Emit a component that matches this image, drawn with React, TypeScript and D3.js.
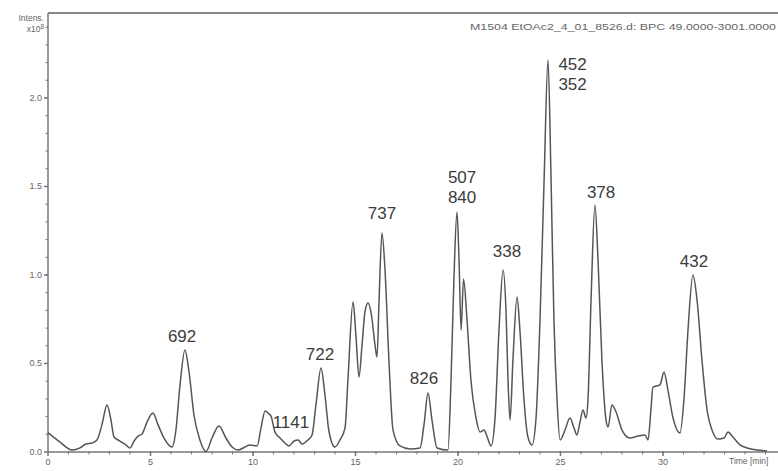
import React, { useEffect, useRef } from 'react';
import * as d3 from 'd3';

// BPC trace, time in minutes and intensity in units of 10^8
const traceTime = [
  0, 0.59, 1.17, 1.56, 1.85, 2.15, 2.39, 2.63, 2.88, 3.07, 3.22, 3.51, 3.8, 4.0, 4.2, 4.39, 4.59, 4.83, 5.12, 5.37,
  5.66, 6.05, 6.24, 6.44, 6.68, 6.88, 7.12, 7.41, 7.71, 8.0, 8.34, 8.68, 8.98, 9.27, 9.61, 9.85, 10.2, 10.39, 10.59,
  10.78, 10.88, 11.07, 11.32, 11.56, 11.76, 12.0, 12.2, 12.39, 12.68, 12.88, 13.07, 13.32, 13.51, 13.71, 14.0, 14.24,
  14.49, 14.63, 14.88, 15.02, 15.17, 15.32, 15.46, 15.61, 15.8, 15.95, 16.05, 16.15, 16.29, 16.44, 16.63, 16.83,
  17.17, 17.66, 18.15, 18.34, 18.54, 18.73, 18.98, 19.51, 19.66, 19.8, 19.95, 20.05, 20.15, 20.27, 20.44, 20.63,
  20.88, 21.07, 21.27, 21.41, 21.61, 21.8, 22.0, 22.2, 22.34, 22.44, 22.54, 22.68, 22.88, 23.02, 23.22, 23.41, 23.61,
  23.8, 24.0, 24.2, 24.39, 24.54, 24.68, 24.83, 24.98, 25.22, 25.46, 25.66, 25.8, 25.95, 26.1, 26.24, 26.34, 26.49,
  26.68, 26.83, 27.02, 27.22, 27.32, 27.51, 27.71, 28.0, 28.39, 28.78, 29.12, 29.27, 29.41, 29.51, 29.85, 30.05,
  30.24, 30.49, 30.83, 31.02, 31.22, 31.46, 31.66, 31.9, 32.15, 32.39, 32.68, 32.98, 33.17, 33.41, 33.76, 34.1,
  34.59, 35.07,
];
const traceIntensity = [
  0.11, 0.056, 0.011, 0.023, 0.045, 0.051, 0.068, 0.153, 0.266, 0.181, 0.085, 0.062, 0.04, 0.023, 0.062, 0.09, 0.102,
  0.169, 0.22, 0.153, 0.079, 0.028, 0.124, 0.379, 0.576, 0.452, 0.209, 0.068, 0.003, 0.079, 0.147, 0.079, 0.028,
  0.011, 0.028, 0.04, 0.034, 0.136, 0.232, 0.215, 0.203, 0.113, 0.079, 0.051, 0.034, 0.062, 0.068, 0.045, 0.068,
  0.096, 0.266, 0.475, 0.322, 0.113, 0.028, 0.068, 0.136, 0.407, 0.847, 0.661, 0.424, 0.605, 0.791, 0.842, 0.757,
  0.605, 0.537, 0.859, 1.237, 1.028, 0.52, 0.124, 0.034, 0.017, 0.023, 0.153, 0.333, 0.181, 0.023, 0.011, 0.407,
  0.972, 1.356, 1.085, 0.689, 0.977, 0.746, 0.407, 0.192, 0.113, 0.124, 0.09, 0.034, 0.181, 0.689, 1.028, 0.802,
  0.407, 0.181, 0.52, 0.876, 0.689, 0.294, 0.085, 0.04, 0.181, 0.746, 1.537, 2.215, 1.537, 0.746, 0.294, 0.068,
  0.124, 0.192, 0.136, 0.096, 0.169, 0.237, 0.192, 0.294, 0.859, 1.395, 1.085, 0.52, 0.181, 0.141, 0.266, 0.226,
  0.124, 0.079, 0.09, 0.096, 0.068, 0.237, 0.367, 0.379, 0.452, 0.35, 0.192, 0.107, 0.294, 0.689, 1.0, 0.859, 0.52,
  0.237, 0.124, 0.073, 0.079, 0.113, 0.085, 0.04, 0.023, 0.011, 0.006,
];

// peak annotations (m/z), placed at time / intensity
const peakText = ['692', '1141', '722', '737', '826', '507', '840', '338', '452', '352', '378', '432'];
const peakTime = [6.54, 11.85, 13.27, 16.29, 18.34, 20.2, 20.2, 22.39, 25.59, 25.59, 26.98, 31.51];
const peakLevel = [0.621, 0.136, 0.52, 1.316, 0.384, 1.52, 1.405, 1.102, 2.16, 2.043, 1.435, 1.045];

const xTicks = [0, 5, 10, 15, 20, 25, 30];
const yTicks = [0, 0.5, 1.0, 1.5, 2.0];

const title = 'M1504 EtOAc2_4_01_8526.d: BPC 49.0000-3001.0000';

const Chromatogram = () => {
  const svgRef = useRef(null);

  useEffect(() => {
    const width = 778;
    const height = 471;
    const svg = d3.select(svgRef.current);
    svg.selectAll('*').remove();
    svg.attr('width', width).attr('height', height);

    svg.append('rect').attr('width', width).attr('height', height).attr('fill', '#fff');

    const x = d3.scaleLinear().domain([0, 35]).range([48, 765.5]);
    const y = d3.scaleLinear().domain([0, 2.48]).range([452, 13]);

    const axisColor = '#777';
    const font = 'Liberation Sans, Arial, sans-serif';

    // frame: top line, left and bottom axes
    svg.append('line').attr('x1', 48).attr('x2', width).attr('y1', 13).attr('y2', 13)
      .attr('stroke', '#888').attr('stroke-width', 2);

    const xAxis = svg.append('g').attr('transform', `translate(0,${y(0)})`);
    xAxis.append('line').attr('x1', 48).attr('x2', width).attr('stroke', axisColor).attr('stroke-width', 1.5);
    xAxis.selectAll('.minor')
      .data(d3.range(1, 36))
      .enter()
      .append('line')
      .attr('x1', d => x(d)).attr('x2', d => x(d))
      .attr('y1', -1).attr('y2', 2.5)
      .attr('stroke', axisColor);
    xAxis.selectAll('.major')
      .data(xTicks)
      .enter()
      .append('line')
      .attr('x1', d => x(d)).attr('x2', d => x(d))
      .attr('y1', -1).attr('y2', 4)
      .attr('stroke', axisColor).attr('stroke-width', 1.5);
    xAxis.selectAll('text')
      .data(xTicks)
      .enter()
      .append('text')
      .attr('x', d => x(d))
      .attr('y', 13)
      .attr('text-anchor', 'middle')
      .attr('font-family', font)
      .attr('font-size', 9)
      .attr('fill', '#666')
      .text(d => d);
    xAxis.append('text')
      .attr('x', 729).attr('y', 12)
      .attr('font-family', font).attr('font-size', 8.5).attr('fill', '#666')
      .text('Time [min]');

    const yAxis = svg.append('g').attr('transform', `translate(${x(0)},0)`);
    yAxis.append('line').attr('y1', y(0)).attr('y2', 13).attr('stroke', axisColor).attr('stroke-width', 1.5);
    yAxis.selectAll('.minor')
      .data(d3.range(1, 25).map(d => d / 10))
      .enter()
      .append('line')
      .attr('y1', d => y(d)).attr('y2', d => y(d))
      .attr('x1', -2.5).attr('x2', 0)
      .attr('stroke', axisColor);
    yAxis.selectAll('.major')
      .data(yTicks)
      .enter()
      .append('line')
      .attr('y1', d => y(d)).attr('y2', d => y(d))
      .attr('x1', -4).attr('x2', 0)
      .attr('stroke', axisColor).attr('stroke-width', 1.5);
    yAxis.selectAll('text')
      .data(yTicks)
      .enter()
      .append('text')
      .attr('x', -6)
      .attr('y', d => y(d) + 3)
      .attr('text-anchor', 'end')
      .attr('font-family', font)
      .attr('font-size', 9)
      .attr('fill', '#666')
      .text(d => d.toFixed(1));

    svg.append('text').attr('x', 44).attr('y', 21).attr('text-anchor', 'end')
      .attr('font-family', font).attr('font-size', 8.5).attr('fill', '#666').text('Intens.');
    const unit = svg.append('text').attr('x', 44).attr('y', 32).attr('text-anchor', 'end')
      .attr('font-family', font).attr('font-size', 8.5).attr('fill', '#666');
    unit.append('tspan').text('x10');
    unit.append('tspan').attr('dy', -3).attr('font-size', 6.5).text('8');

    svg.append('text')
      .attr('x', 776).attr('y', 30)
      .attr('text-anchor', 'end')
      .attr('font-family', font)
      .attr('font-size', 9.5)
      .attr('textLength', 306)
      .attr('lengthAdjust', 'spacingAndGlyphs')
      .attr('fill', '#666')
      .text(title);

    // trace
    const points = traceTime.map((t, i) => [t, traceIntensity[i]]);
    const line = d3.line()
      .x(d => x(d[0]))
      .y(d => y(d[1]))
      .curve(d3.curveMonotoneX);

    svg.append('path')
      .datum(points)
      .attr('d', line)
      .attr('fill', 'none')
      .attr('stroke', '#555')
      .attr('stroke-width', 1.5)
      .attr('stroke-linejoin', 'round');

    // peak labels
    svg.selectAll('.peak')
      .data(peakText)
      .enter()
      .append('text')
      .attr('class', 'peak')
      .attr('x', (d, i) => x(peakTime[i]))
      .attr('y', (d, i) => y(peakLevel[i]))
      .attr('text-anchor', 'middle')
      .attr('font-family', font)
      .attr('font-size', 17)
      .attr('fill', '#3c3c3c')
      .text(d => d);
  }, []);

  return <svg ref={svgRef} width={778} height={471}></svg>;
};

export default function App() {
  return (
    <div style={{ position: 'absolute', left: 0, top: 0 }}>
      <Chromatogram />
    </div>
  );
}
